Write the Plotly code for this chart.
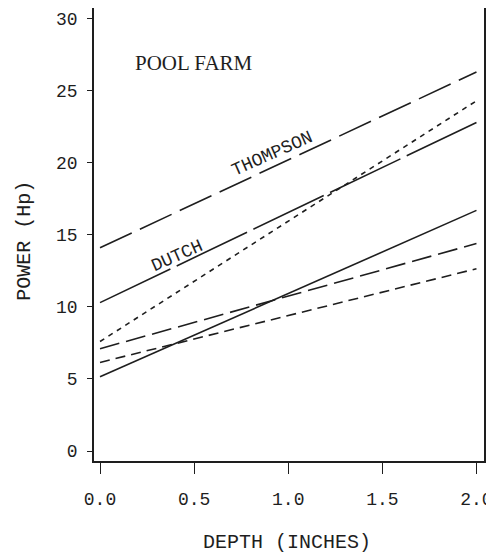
import plotly.graph_objects as go

# Data (depth in inches vs power in Hp)
depth = [0.0, 2.0]
thompson_upper = [14.1, 26.3]
dutch_upper = [10.3, 22.8]
dotted_series = [7.6, 24.3]
solid_lower = [5.15, 16.7]
longdash_lower = [7.1, 14.4]
dash_lower = [6.15, 12.65]

x_ticks = [0.0, 0.5, 1.0, 1.5, 2.0]
x_ticklabels = ["0.0", "0.5", "1.0", "1.5", "2.0"]
y_ticks = [0, 5, 10, 15, 20, 25, 30]

INK = "#1e1e1e"
MONO = "Liberation Mono"
SERIF = "Liberation Serif"

series = [
    (thompson_upper, "35px,9px"),
    (dutch_upper, "78px,7px"),
    (dotted_series, "5px,5px"),
    (solid_lower, "solid"),
    (longdash_lower, "20px,7px"),
    (dash_lower, "10px,6px"),
]

fig = go.Figure()
for ys, dash in series:
    fig.add_trace(go.Scatter(x=depth, y=ys, mode="lines",
                             line=dict(color=INK, width=1.6, dash=dash),
                             showlegend=False, hoverinfo="skip"))

fig.add_annotation(x=0.5, y=26.95, text="POOL FARM", showarrow=False,
                   font=dict(family=SERIF, size=21, color=INK))
fig.add_annotation(x=0.913, y=20.6, text="THOMPSON", showarrow=False, textangle=-24,
                   font=dict(family=MONO, size=18, color=INK))
fig.add_annotation(x=0.41, y=13.55, text="DUTCH", showarrow=False, textangle=-24,
                   font=dict(family=MONO, size=18, color=INK))

fig.add_annotation(xref="paper", yref="paper", x=0.495, y=-0.181,
                   xanchor="center", yanchor="middle",
                   text="DEPTH (INCHES)", showarrow=False,
                   font=dict(family=MONO, size=20, color=INK))
fig.add_annotation(xref="paper", yref="paper", x=-0.177, y=0.486,
                   xanchor="center", yanchor="middle",
                   text="POWER (Hp)", showarrow=False, textangle=-90,
                   font=dict(family=MONO, size=20, color=INK))

# The page body adds an 8px offset, so the figure is 8px smaller than the window.
fig.update_layout(
    width=486, height=549,
    margin=dict(l=86, r=10, t=0, b=96, autoexpand=False),
    paper_bgcolor="white", plot_bgcolor="white",
    showlegend=False,
)
fig.update_xaxes(range=[-0.032, 2.04], tickvals=x_ticks, ticktext=x_ticklabels,
                 automargin=False,
                 showgrid=False, zeroline=False, showline=True, mirror=True,
                 linecolor=INK, linewidth=1.8, ticks="outside", ticklen=11,
                 tickwidth=1, tickcolor=INK, ticklabelstandoff=9,
                 tickfont=dict(family=MONO, size=18, color=INK))
fig.update_yaxes(range=[-0.69, 30.74], tickvals=y_ticks,
                 automargin=False,
                 showgrid=False, zeroline=False, showline=True, mirror=True,
                 linecolor=INK, linewidth=1.8, ticks="outside", ticklen=5,
                 tickwidth=1, tickcolor=INK, ticklabelstandoff=6,
                 tickfont=dict(family=MONO, size=18, color=INK))

fig.write_html("out.html")
